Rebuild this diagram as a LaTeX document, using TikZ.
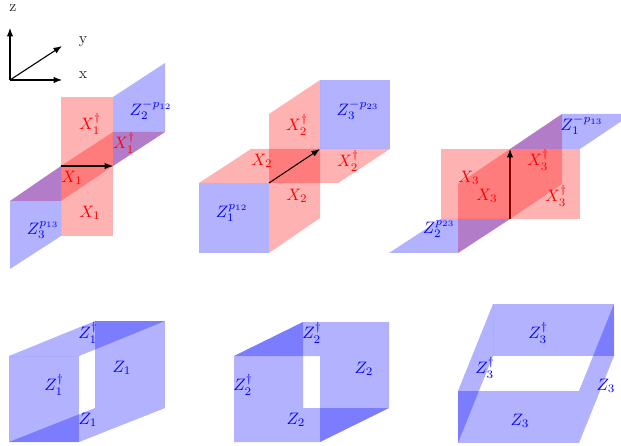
\documentclass[tikz,border=0pt]{standalone}
\usetikzlibrary{arrows.meta}
\begin{document}
\begin{tikzpicture}[x=1bp,y=-1bp,
  redp/.style={fill=red,fill opacity=0.3,draw=none},
  bluep/.style={fill=blue,fill opacity=0.3,draw=none},
  vec/.style={-{Latex[length=8.5bp,width=6.5bp]},black,line width=1.1bp},
  rl/.style={text=red,scale=1.66,inner sep=0pt},
  bl/.style={text=blue,scale=1.66,inner sep=0pt},
  tl/.style={text=black!85,scale=1.6,inner sep=0pt}]
\useasboundingbox (0,0) rectangle (621,446);
\clip (0,0) rectangle (621,446);
% axes
\coordinate (o) at (10,80);
\coordinate (az) at (10,28);
\coordinate (ay) at (62,46);
\coordinate (ax) at (62,80);
\draw[vec] (o) -- (az);
\draw[vec] (o) -- (ay);
\draw[vec] (o) -- (ax);
\node[tl] (lz) at (13,8) {z};
\node[tl] (ly) at (83,42) {y};
\node[tl] (lx) at (83,75) {x};
% panel 1
\fill[redp] (61,97) -- (113,97) -- (113,166) -- (61,166) -- cycle;
\fill[redp] (61,166) -- (113,166) -- (113,236) -- (61,236) -- cycle;
\fill[redp] (10,201) -- (61,201) -- (113,166) -- (61,166) -- cycle;
\fill[redp] (61,166) -- (113,166) -- (165,132) -- (113,132) -- cycle;
\fill[bluep] (10,201) -- (61,166) -- (61,236) -- (10,269) -- cycle;
\fill[bluep] (113,97) -- (165,63) -- (165,132) -- (113,166) -- cycle;
\coordinate (a1s) at (61,166);
\coordinate (a1e) at (113,166);
\draw[vec] (a1s) -- (a1e);
\node[rl] (p1a) at (90,124) {$X_1^\dagger$};
\node[rl] (p1b) at (124,143) {$X_1^\dagger$};
\node[rl] (p1c) at (72,178) {$X_1$};
\node[rl] (p1d) at (90,213) {$X_1$};
\node[bl] (p1e) at (151,110) {$Z_2^{-p_{12}}$};
\node[bl] (p1f) at (43,230) {$Z_3^{p_{13}}$};
% panel 2
\fill[redp] (269,114) -- (320,80) -- (320,149) -- (269,183) -- cycle;
\fill[redp] (269,183) -- (320,149) -- (320,218) -- (269,253) -- cycle;
\fill[redp] (199,183) -- (269,183) -- (320,149) -- (251,149) -- cycle;
\fill[redp] (269,183) -- (338,183) -- (390,149) -- (320,149) -- cycle;
\fill[bluep] (199,183) rectangle (269,253);
\fill[bluep] (320,80) rectangle (390,149);
\coordinate (a2s) at (269,183);
\coordinate (a2e) at (320,149);
\draw[vec] (a2s) -- (a2e);
\node[rl] (p2a) at (297,125) {$X_2^\dagger$};
\node[rl] (p2b) at (262,161) {$X_2$};
\node[rl] (p2c) at (348,161) {$X_2^\dagger$};
\node[rl] (p2d) at (297,196) {$X_2$};
\node[bl] (p2e) at (358,110) {$Z_3^{-p_{23}}$};
\node[bl] (p2f) at (232,213) {$Z_1^{p_{12}}$};
% panel 3: the shaft lies under the red planes, the tip on top of them
\coordinate (a3s) at (510,219);
\coordinate (a3e) at (510,149);
\coordinate (a3m) at (510,158);
\draw[black,line width=1.4bp] (a3s) -- (a3m);
\fill[redp] (441,149) rectangle (510,219);
\fill[redp] (510,149) rectangle (580,219);
\fill[redp] (458,184) -- (510,149) -- (510,219) -- (458,253) -- cycle;
\fill[redp] (510,149) -- (562,114) -- (562,184) -- (510,219) -- cycle;
\fill[bluep] (389,253) -- (458,253) -- (510,219) -- (441,219) -- cycle;
\fill[bluep] (510,149) -- (580,149) -- (632,114) -- (562,114) -- cycle;
\draw[vec] (a3m) -- (a3e);
\node[rl] (p3a) at (469,178) {$X_3$};
\node[rl] (p3b) at (487,196) {$X_3$};
\node[rl] (p3c) at (538,160) {$X_3^\dagger$};
\node[rl] (p3d) at (556,196) {$X_3^\dagger$};
\node[bl] (p3e) at (582,125) {$Z_1^{-p_{13}}$};
\node[bl] (p3f) at (439,229) {$Z_2^{p_{23}}$};
% panel 4
\fill[bluep] (9,356) rectangle (79,442);
\fill[bluep] (95,321) rectangle (165,408);
\fill[bluep] (9,356) -- (95,321) -- (165,321) -- (79,356) -- cycle;
\fill[bluep] (9,442) -- (79,442) -- (165,408) -- (95,408) -- cycle;
\node[bl] (p4a) at (88,333) {$Z_1^\dagger$};
\node[bl] (p4b) at (122,368) {$Z_1$};
\node[bl] (p4c) at (54,385) {$Z_1^\dagger$};
\node[bl] (p4d) at (88,420) {$Z_1$};
% panel 5
\fill[bluep] (234,356) -- (303,322) -- (303,408) -- (389,408) -- (320,442) -- (234,442) -- cycle;
\fill[bluep] (234,356) -- (303,322) -- (389,322) -- (389,408) -- (320,442) -- (320,356) -- cycle;
\node[bl] (p5a) at (312,333) {$Z_2^\dagger$};
\node[bl] (p5b) at (364,369) {$Z_2$};
\node[bl] (p5c) at (243,385) {$Z_2^\dagger$};
\node[bl] (p5d) at (296,420) {$Z_2$};
% panel 6
\fill[bluep] (493,304) rectangle (614,356);
\fill[bluep] (458,391) rectangle (579,443);
\fill[bluep] (458,391) -- (493,304) -- (493,356) -- (458,443) -- cycle;
\fill[bluep] (579,391) -- (614,304) -- (614,356) -- (579,443) -- cycle;
\node[bl] (p6a) at (538,333) {$Z_3^\dagger$};
\node[bl] (p6b) at (485,368) {$Z_3^\dagger$};
\node[bl] (p6c) at (606,386) {$Z_3$};
\node[bl] (p6d) at (520,421) {$Z_3$};
\end{tikzpicture}
\end{document}
